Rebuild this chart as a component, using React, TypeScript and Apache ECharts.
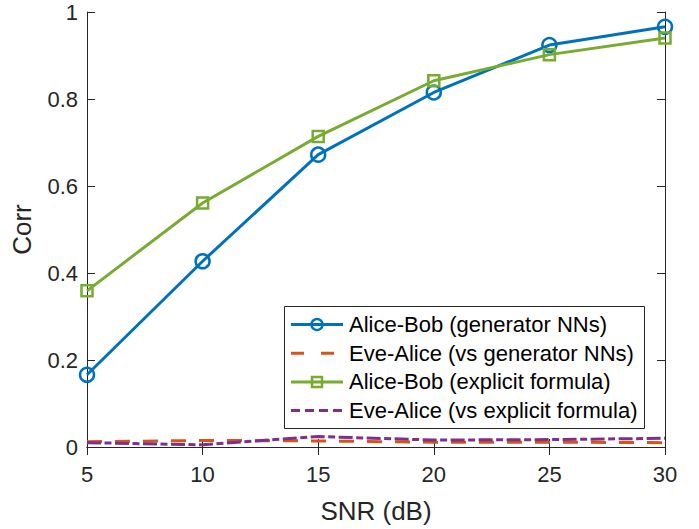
import React, { useEffect, useRef } from "react";
import * as echarts from "echarts";

const snr = [5, 10, 15, 20, 25, 30];
const aliceBobGen = [0.166, 0.427, 0.672, 0.815, 0.924, 0.966];
const eveAliceGen = [0.012, 0.015, 0.014, 0.011, 0.011, 0.01];
const aliceBobFormula = [0.359, 0.561, 0.714, 0.842, 0.902, 0.94];
const eveAliceFormula = [0.01, 0.005, 0.024, 0.016, 0.017, 0.02];
const legendNames = [
  "Alice-Bob (generator NNs)",
  "Eve-Alice (vs generator NNs)",
  "Alice-Bob (explicit formula)",
  "Eve-Alice (vs explicit formula)",
];

const BLUE = "#0072BD";
const ORANGE = "#D95319";
const GREEN = "#77AC30";
const PURPLE = "#7E2F8E";
const INK = "#262626";
const FONT = "Liberation Sans, Arial, sans-serif";

const pairs = (ys: number[]) => snr.map((x, i) => [x, ys[i]]);

export default function App() {
  const ref = useRef<HTMLDivElement>(null);
  useEffect(() => {
    if (!ref.current) return;
    const chart = echarts.init(ref.current, null, { renderer: "svg" });

    const lx0 = 291;
    const lx1 = 343;
    const mx = 317;
    const rowY = (i: number) => 324.5 + i * 28.7;
    const legendGraphics: any[] = [
      {
        type: "rect",
        shape: { x: 284.5, y: 306.5, width: 360, height: 122 },
        style: { fill: "#fff", stroke: INK, lineWidth: 1 },
        z: 100,
      },
      {
        type: "line",
        shape: { x1: lx0, y1: rowY(0), x2: lx1, y2: rowY(0) },
        style: { stroke: BLUE, lineWidth: 3 },
        z: 101,
      },
      {
        type: "circle",
        shape: { cx: mx, cy: rowY(0), r: 5.5 },
        style: { fill: "none", stroke: BLUE, lineWidth: 2.5 },
        z: 102,
      },
      {
        type: "line",
        shape: { x1: lx0, y1: rowY(1), x2: lx1, y2: rowY(1) },
        style: { stroke: ORANGE, lineWidth: 3, lineDash: [13, 17] },
        z: 101,
      },
      {
        type: "line",
        shape: { x1: lx0, y1: rowY(2), x2: lx1, y2: rowY(2) },
        style: { stroke: GREEN, lineWidth: 3 },
        z: 101,
      },
      {
        type: "rect",
        shape: { x: mx - 5, y: rowY(2) - 5, width: 10, height: 10 },
        style: { fill: "none", stroke: GREEN, lineWidth: 2.5 },
        z: 102,
      },
      {
        type: "line",
        shape: { x1: lx0, y1: rowY(3), x2: lx1, y2: rowY(3) },
        style: { stroke: PURPLE, lineWidth: 3, lineDash: [9, 5] },
        z: 101,
      },
    ];
    legendNames.forEach((name, i) => {
      legendGraphics.push({
        type: "text",
        x: 349,
        y: rowY(i),
        style: {
          text: name,
          fill: "#000",
          font: `22px ${FONT}`,
          verticalAlign: "middle",
          align: "left",
        },
        z: 102,
      });
    });

    const baseAxisLine = { show: true, lineStyle: { color: INK, width: 1 } };
    const tick = { show: true, inside: true, length: 8, lineStyle: { color: INK } };

    chart.setOption({
      animation: false,
      backgroundColor: "#fff",
      grid: { left: 87, right: 34, top: 12, bottom: 77, containLabel: false },
      xAxis: [
        {
          type: "value",
          position: "bottom",
          min: 5,
          max: 30,
          interval: 5,
          axisLine: baseAxisLine,
          axisTick: tick,
          splitLine: { show: false },
          axisLabel: { color: INK, fontSize: 22, fontFamily: FONT, margin: 16 },
          name: "SNR (dB)",
          nameLocation: "middle",
          nameGap: 51,
          nameTextStyle: { color: INK, fontSize: 26, fontFamily: FONT },
        },
        {
          type: "value",
          position: "top",
          min: 5,
          max: 30,
          interval: 5,
          axisLine: baseAxisLine,
          axisTick: tick,
          splitLine: { show: false },
          axisLabel: { show: false },
        },
      ],
      yAxis: [
        {
          type: "value",
          position: "left",
          min: 0,
          max: 1,
          interval: 0.2,
          axisLine: baseAxisLine,
          axisTick: tick,
          splitLine: { show: false },
          axisLabel: {
            color: INK,
            fontSize: 22,
            fontFamily: FONT,
            margin: 9,
            formatter: (v: number) => String(parseFloat(v.toFixed(2))),
          },
          name: "Corr",
          nameLocation: "middle",
          nameGap: 52,
          nameTextStyle: { color: INK, fontSize: 26, fontFamily: FONT },
        },
        {
          type: "value",
          position: "right",
          min: 0,
          max: 1,
          interval: 0.2,
          axisLine: baseAxisLine,
          axisTick: tick,
          splitLine: { show: false },
          axisLabel: { show: false },
        },
      ],
      series: [
        {
          name: legendNames[0],
          type: "line",
          data: pairs(aliceBobGen),
          symbol: "circle",
          symbolSize: 14,
          itemStyle: { color: "rgba(0,0,0,0)", borderColor: BLUE, borderWidth: 2.5 },
          lineStyle: { color: BLUE, width: 3 },
          z: 2,
        },
        {
          name: legendNames[1],
          type: "line",
          data: pairs(eveAliceGen),
          symbol: "none",
          lineStyle: { color: ORANGE, width: 3, type: [15, 13] },
          z: 3,
        },
        {
          name: legendNames[2],
          type: "line",
          data: pairs(aliceBobFormula),
          symbol: "rect",
          symbolSize: 11,
          itemStyle: { color: "rgba(0,0,0,0)", borderColor: GREEN, borderWidth: 2.5 },
          lineStyle: { color: GREEN, width: 3 },
          z: 4,
        },
        {
          name: legendNames[3],
          type: "line",
          data: pairs(eveAliceFormula),
          symbol: "none",
          lineStyle: { color: PURPLE, width: 3, type: [14, 3.5, 7, 3.5] },
          z: 5,
        },
      ],
      graphic: legendGraphics,
    });
    return () => chart.dispose();
  }, []);

  return (
    <div
      ref={ref}
      style={{ position: "fixed", left: 0, top: 0, width: 699, height: 529, background: "#fff" }}
    />
  );
}
